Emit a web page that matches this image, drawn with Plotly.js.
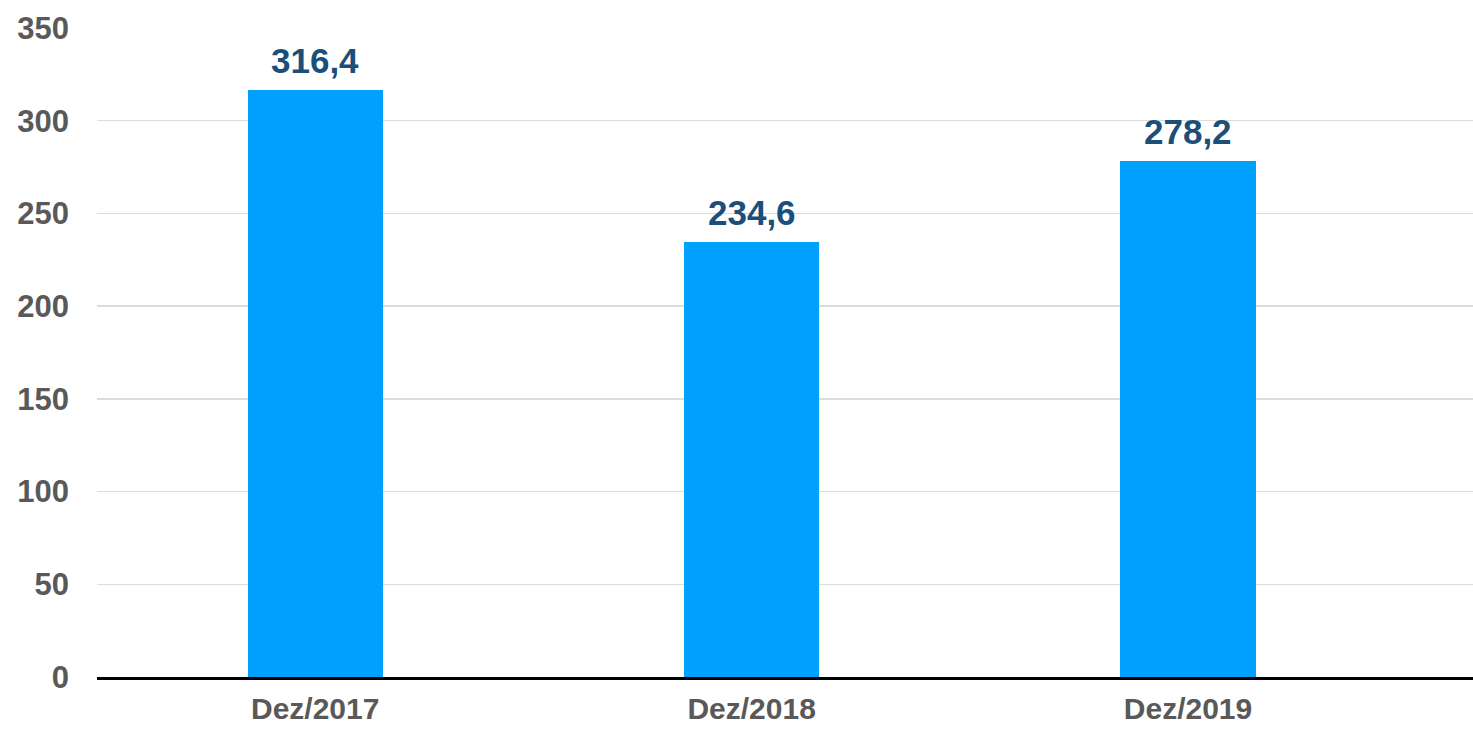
<!DOCTYPE html>
<html>
<head>
<meta charset="utf-8">
<script src="https://cdn.plot.ly/plotly-3.0.1.min.js"></script>
<style>html,body{margin:0;padding:0;background:#fff;}#chart{width:1473px;height:729px;}</style>
</head>
<body>
<div id="chart"></div>
<script>
const categories = ["Dez/2017", "Dez/2018", "Dez/2019"];
const values = [316.4, 234.6, 278.2];
const tickValues = [0, 50, 100, 150, 200, 250, 300, 350];

const FONT = "Liberation Sans, Arial, sans-serif";

const trace = {
  type: "bar",
  x: categories,
  y: values,
  width: 0.31,
  marker: { color: "#00A1FC", line: { width: 0 } },
  hoverinfo: "skip"
};

const annotations = categories.map((c, i) => ({
  x: c,
  y: values[i],
  xref: "x",
  yref: "y",
  text: values[i].toFixed(1).replace(".", ","),
  showarrow: false,
  yanchor: "bottom",
  yshift: 8,
  font: { family: FONT, size: 35, color: "#1B4F7A", weight: "bold" }
}));

const layout = {
  width: 1473,
  height: 729,
  margin: { l: 97, r: 0, t: 28, b: 52 },
  paper_bgcolor: "#ffffff",
  plot_bgcolor: "#ffffff",
  showlegend: false,
  bargap: 0,
  xaxis: {
    type: "category",
    range: [-0.5, 2.653],
    showgrid: false,
    showline: true,
    linecolor: "#000000",
    linewidth: 3,
    ticks: "",
    ticklabelstandoff: 3,
    tickfont: { family: FONT, size: 30, color: "#595959", weight: "bold" },
    fixedrange: true
  },
  yaxis: {
    range: [0, 350],
    tickvals: tickValues,
    ticktext: tickValues.map(String),
    showgrid: true,
    gridcolor: "#dcdcdc",
    gridwidth: 1.5,
    zeroline: false,
    showline: false,
    ticks: "",
    ticklabelstandoff: 27,
    tickfont: { family: FONT, size: 31, color: "#595959", weight: "bold" },
    fixedrange: true
  },
  annotations: annotations
};

Plotly.newPlot("chart", [trace], layout, { displayModeBar: false, staticPlot: true });
</script>
</body>
</html>
